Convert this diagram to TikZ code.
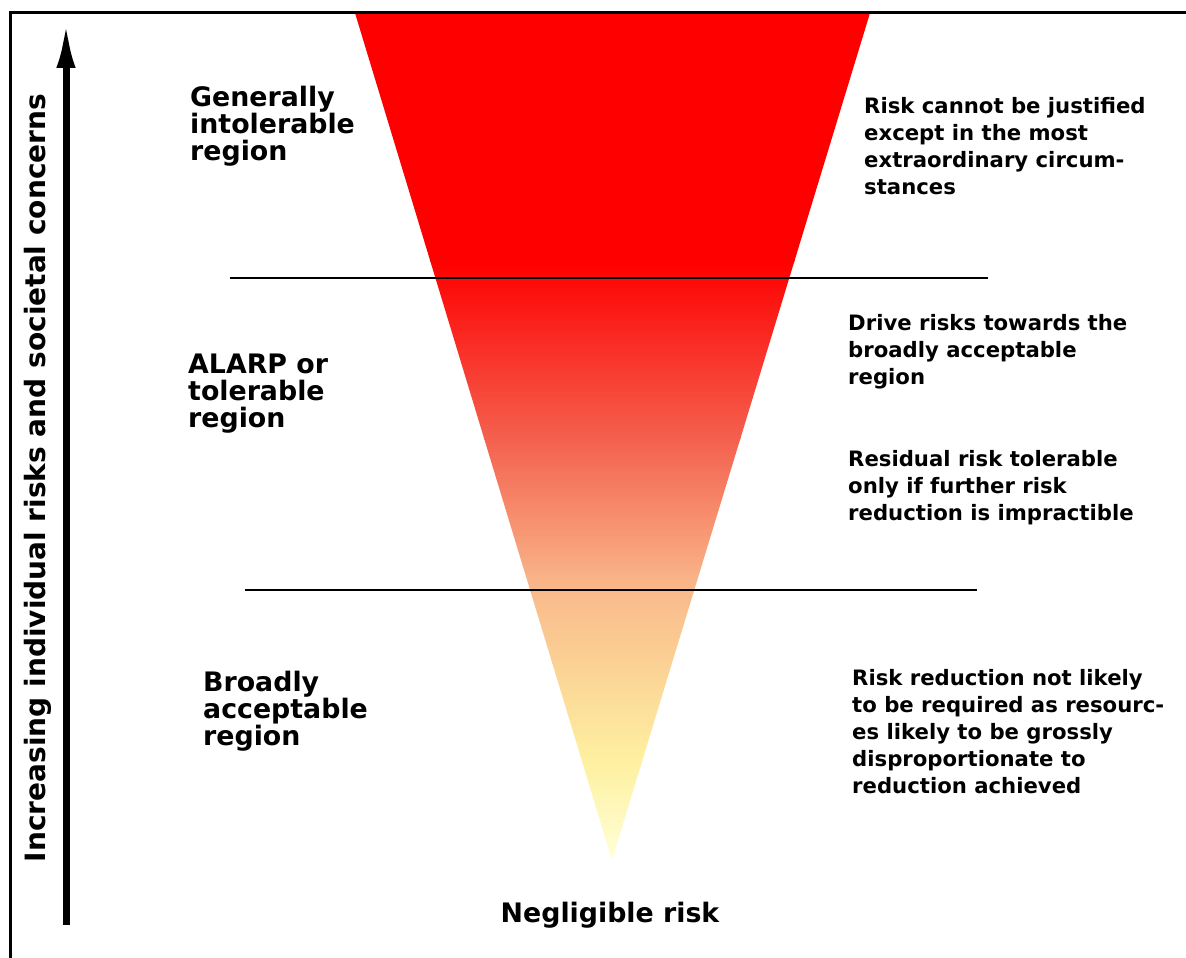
\documentclass[tikz,border=0pt]{standalone}
\usepackage{fontspec}
\setmainfont{DejaVu Sans}[BoldFont={DejaVu Sans Bold}]
\usetikzlibrary{arrows.meta}
\begin{document}
\begin{tikzpicture}[x=1pt,y=-1pt,
  bigtxt/.style={anchor=base west,align=left,inner sep=0pt,font=\bfseries\fontsize{26.8}{27}\selectfont},
  smalltxt/.style={anchor=base west,align=left,inner sep=0pt,font=\bfseries\fontsize{21.2}{27}\selectfont},
  divider/.style={line width=1.8pt,black},
  frameline/.style={line width=3pt,black}]
\useasboundingbox (0,0) rectangle (1186,958);
\fill[white] (0,0) rectangle (1186,958);
% colours of the funnel
\definecolor{cA}{RGB}{255,0,0}
\definecolor{cB}{RGB}{255,0,0}
\definecolor{cC}{RGB}{244,96,78}
\definecolor{cD}{RGB}{249,186,140}
\definecolor{cE}{RGB}{254,240,160}
\definecolor{cF}{RGB}{255,255,215}
\coordinate (tl) at (355,13);
\coordinate (tr) at (870,13);
\coordinate (apex) at (612,860);
\begin{scope}
  \clip (tl) -- (tr) -- (apex) -- cycle;
  \foreach \ya/\yb/\ca/\cb in {13/260/cA/cB, 260/437/cB/cC, 437/590/cC/cD, 590/760/cD/cE, 760/861/cE/cF}{
    \pgfmathsetmacro\n{int((\yb-\ya)/3)}
    \foreach \k in {0,...,\n}{
      \pgfmathsetmacro\p{100*\k/\n}
      \pgfmathsetmacro\yy{\ya+3*\k}
      \fill[\cb!\p!\ca] (340,\yy) rectangle (885,\yy+3.4);
    }
  }
\end{scope}
% frame (top and left edges)
\coordinate (f1) at (10,958);
\coordinate (f2) at (10,13);
\coordinate (f3) at (1186,13);
\draw[frameline] (f1) -- (f2) -- (f3);
% dividers
\coordinate (d1a) at (230,278);
\coordinate (d1b) at (988,278);
\coordinate (d2a) at (245,590);
\coordinate (d2b) at (977,590);
\draw[divider] (d1a) -- (d1b);
\draw[divider] (d2a) -- (d2b);
% axis arrow
\coordinate (ab) at (66,925);
\coordinate (at) at (66,20);
\draw[line width=7pt,-{Latex[length=48pt,width=19pt]}] (ab) -- (at);
\node[rotate=90,inner sep=0pt,font=\bfseries\fontsize{28}{30}\selectfont] (axis) at (38,478) {Increasing individual risks and societal concerns};
% region labels
\node[bigtxt] (gen) at (190,160) {Generally\\intolerable\\region};
\node[bigtxt] (alarp) at (188,427) {ALARP or\\tolerable\\region};
\node[bigtxt] (broad) at (203,745) {Broadly\\acceptable\\region};
\node[bigtxt,anchor=base] (negl) at (610,922) {Negligible risk};
% descriptions
\node[smalltxt] (r1) at (864,194) {Risk cannot be justified\\except in the most\\extraordinary circum-\\stances};
\node[smalltxt] (r2) at (848,384) {Drive risks towards the\\broadly acceptable\\region};
\node[smalltxt] (r3) at (848,520) {Residual risk tolerable\\only if further risk\\reduction is impractible};
\node[smalltxt] (r4) at (852,793) {Risk reduction not likely\\to be required as resourc-\\es likely to be grossly\\disproportionate to\\reduction achieved};
\end{tikzpicture}
\end{document}
